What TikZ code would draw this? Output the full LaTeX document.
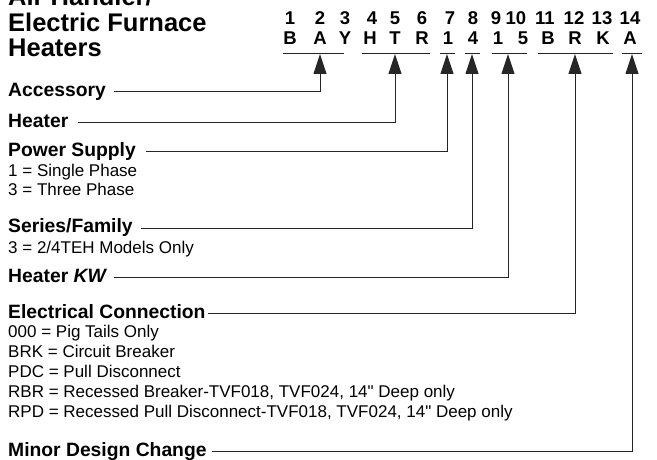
\documentclass[tikz,border=0pt]{standalone}
\usepackage{fontspec}
\setmainfont{Liberation Sans}
\newfontfamily\plainfont{Liberation Sans}
\newcommand{\inchmark}{{\plainfont"}}
\usetikzlibrary{arrows.meta,calc}
\tikzset{pin/.style={-{Triangle[length=20pt,width=13pt]}, line width=1pt, draw=black!85},
  ttl/.style={font=\fontsize{25.5}{26}\selectfont\bfseries, anchor=base west, inner sep=0pt},
  hdr/.style={font=\fontsize{19.3}{20}\selectfont\bfseries, anchor=base west, inner sep=0pt},
  opt/.style={font=\fontsize{17}{18}\selectfont, anchor=base west, inner sep=0pt},
  chr/.style={font=\fontsize{18.5}{19}\selectfont\bfseries, anchor=base, inner sep=0pt},
  bar/.style={line width=1pt, draw=black!85}}

\begin{document}
\begin{tikzpicture}[x=1pt,y=-1pt]
  \useasboundingbox (0,0) rectangle (657,460);
  \clip (0,0) rectangle (657,460);
  % title
  \node[ttl] (t1) at (8,6)  {Air Handler/};
  \node[ttl] (t2) at (8,32) {Electric Furnace};
  \node[ttl] (t3) at (8,57) {Heaters};
  % digit positions and code letters
  \foreach \x [count=\i] in {290,320,345,372,395,422,450,473,496,516,545,574,602,630}{
    \node[chr] (n\i) at (\x,25) {\i};}
  \foreach \x/\l [count=\i] in {290/B,320/A,345/Y,370/H,395/T,422/R,448/1,473/4,498/1,523/5,548/B,575/R,603/K,630/A}{
    \node[chr] (c\i) at (\x,45) {\l};}
  % group underlines
  \foreach \a/\b in {283/344,362/430,440/455,465/480,492/527,538/613,622/642}{
    \draw[bar] (\a,54) -- (\b,54);}
  % arrow tips
  \foreach \n/\x in {acc/320,htr/395,pwr/447,ser/472,kw/508,elec/575,mdc/632}{
    \coordinate (tip-\n) at (\x,54);}
  % field names
  \node[hdr] (acc)  at (8,96.5) {Accessory};
  \node[hdr] (htr)  at (8,128)  {Heater};
  \node[hdr] (pwr)  at (8,157)  {Power Supply};
  \node[opt] (pwr1) at (8,176)  {1 = Single Phase};
  \node[opt] (pwr3) at (8,196)  {3 = Three Phase};
  \node[hdr] (ser)  at (8,233)  {Series/Family};
  \node[opt] (ser3) at (8,253)  {3 = 2/4TEH Models Only};
  \node[hdr] (kw)   at (8,282)  {Heater \textit{KW}};
  \node[hdr] (elec) at (8,318)  {Electrical Connection};
  \node[opt] (el1)  at (8,337)  {000 = Pig Tails Only};
  \node[opt] (el2)  at (8,357)  {BRK = Circuit Breaker};
  \node[opt] (el3)  at (8,377)  {PDC = Pull Disconnect};
  \node[opt] (el4)  at (8,397)  {RBR = Recessed Breaker-TVF018, TVF024, 14\inchmark{} Deep only};
  \node[opt] (el5)  at (8,417)  {RPD = Recessed Pull Disconnect-TVF018, TVF024, 14\inchmark{} Deep only};
  \node[hdr] (mdc)  at (8,456)  {Minor Design Change};
  % leaders
  \foreach \n/\g in {acc/8,htr/10,pwr/10,ser/8,kw/7,elec/2,mdc/5}{
    \draw[pin] ([xshift=\g pt,yshift=5pt]\n.base east) -| (tip-\n);}
\end{tikzpicture}
\end{document}
